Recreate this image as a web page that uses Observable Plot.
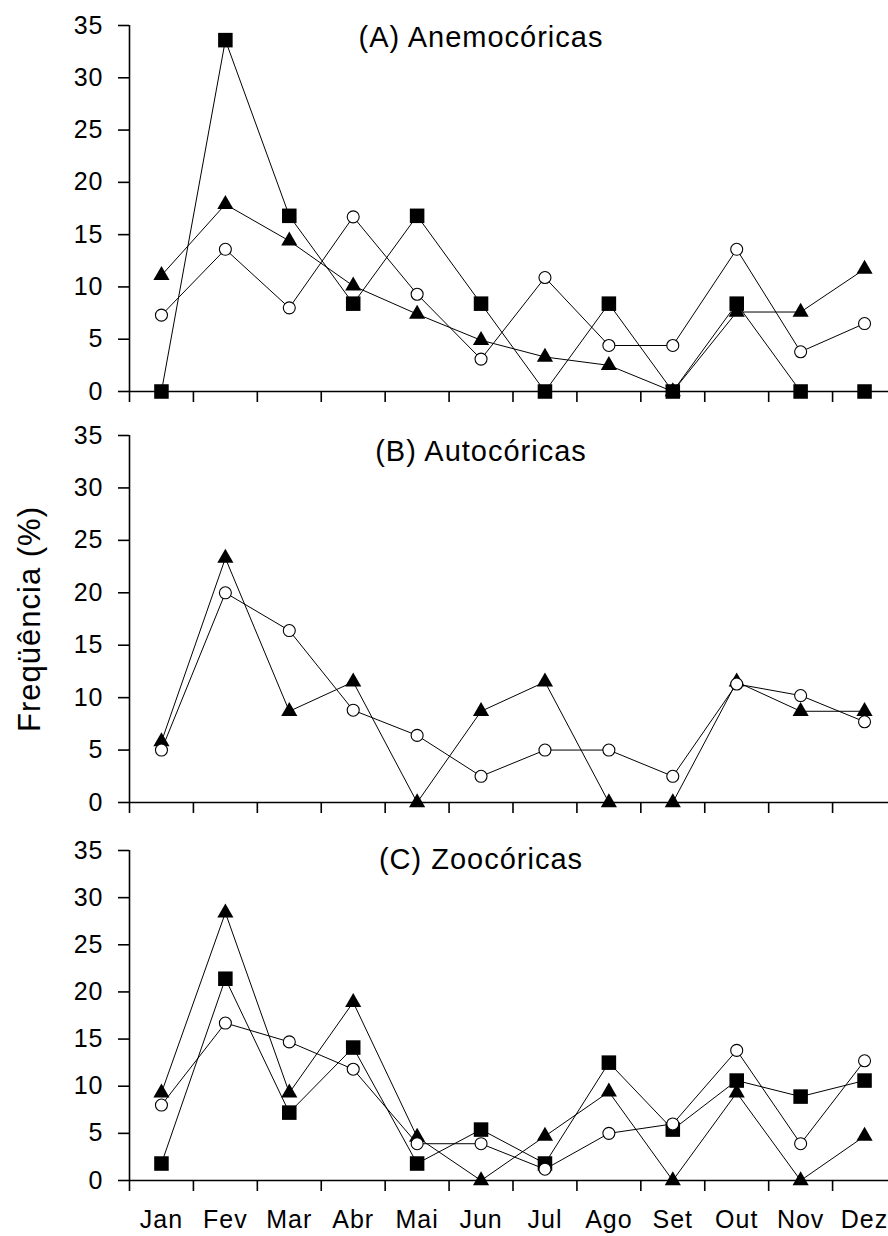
<!DOCTYPE html>
<html>
<head>
<meta charset="utf-8">
<script src="https://cdn.jsdelivr.net/npm/d3@7"></script>
<script src="https://cdn.jsdelivr.net/npm/@observablehq/plot@0.6"></script>
<style>
  html, body { margin: 0; padding: 0; background: #fff; }
  #chart { width: 888px; overflow: hidden; }
  #chart svg { display: block; }
  #chart svg text { letter-spacing: 1px; }
</style>
</head>
<body>
<div id="chart"></div>
<script>
// ---- data ----
const months = ["Jan", "Fev", "Mar", "Abr", "Mai", "Jun", "Jul", "Ago", "Set", "Out", "Nov", "Dez"];
const yTicks = [0, 5, 10, 15, 20, 25, 30, 35];

const titleA = "(A) Anemocóricas";
const titleB = "(B) Autocóricas";
const titleC = "(C) Zoocóricas";
const yTitle = "Freqüência (%)";

const aSquares   = [0, 33.6, 16.8, 8.4, 16.8, 8.4, 0, 8.4, 0, 8.4, 0, 0];
const aTriangles = [11.1, 17.9, 14.4, 10.1, 7.4, 4.9, 3.3, 2.5, 0, 7.6, 7.6, 11.7];
const aCircles   = [7.3, 13.6, 8.0, 16.7, 9.3, 3.1, 10.9, 4.4, 4.4, 13.6, 3.8, 6.5];

const bTriangles = [5.8, 23.3, 8.7, 11.5, 0, 8.7, 11.5, 0, 0, 11.5, 8.7, 8.7];
const bCircles   = [5.0, 20.0, 16.4, 8.8, 6.4, 2.5, 5.0, 5.0, 2.5, 11.3, 10.2, 7.7];

const cSquares   = [1.8, 21.4, 7.2, 14.1, 1.8, 5.4, 1.8, 12.5, 5.4, 10.6, 8.9, 10.6];
const cTriangles = [9.3, 28.4, 9.3, 18.9, 4.6, 0, 4.7, 9.4, 0, 9.3, 0, 4.7];
const cCircles   = [8.0, 16.7, 14.7, 11.8, 3.9, 3.9, 1.2, 5.0, 6.0, 13.8, 3.9, 12.7];

// ---- helpers ----
const FONT = "'Liberation Sans', Arial, sans-serif";
const monthIdx = months.map((m, i) => i);
const bandEdges = monthIdx.map(i => i - 0.5);

const symbolStyle = {
  square:   {symbol: "square",   r: 8.2, fill: "#000", stroke: "none"},
  triangle: {symbol: "triangle", r: 6.0, fill: "#000", stroke: "none"},
  circle:   {symbol: "circle",   r: 6.0, fill: "#fff", stroke: "#000", strokeWidth: 1.1}
};

function makePanel(cfg) {
  const rows = [];
  cfg.series.forEach(s => s.values.forEach((v, i) => rows.push({i, v, key: s.key})));
  const marks = [
    Plot.ruleY([0], {stroke: "#000", strokeWidth: 1.6}),
    Plot.ruleX([{x: -0.5, y1: 0, y2: 35}], {x: "x", y1: "y1", y2: "y2", stroke: "#000", strokeWidth: 1.6}),
    Plot.axisY({ticks: yTicks, tickSize: 11, tickPadding: 15, fontSize: 25, strokeWidth: 1.6, label: null, fill: "#000"}),
    Plot.axisX({ticks: bandEdges, tickSize: 11, tickFormat: () => "", strokeWidth: 1.6, label: null})
  ];
  cfg.series.forEach(s => {
    marks.push(Plot.lineY(rows.filter(r => r.key === s.key), {x: "i", y: "v", stroke: "#000", strokeWidth: 1}));
  });
  cfg.series.forEach(s => {
    const st = symbolStyle[s.key];
    marks.push(Plot.dot(rows.filter(r => r.key === s.key), {x: "i", y: "v", ...st}));
  });
  marks.push(Plot.text([cfg.title], {text: d => d, frameAnchor: "top", dx: -28, dy: cfg.titleDy, fontSize: 29, fill: "#000"}));
  if (cfg.yLabel) {
    marks.push(Plot.text([cfg.yLabel], {text: d => d, frameAnchor: "left", rotate: -90, textAnchor: "middle", dx: -99, fontSize: 31, fill: "#000"}));
  }
  if (cfg.xLabels) {
    marks.push(Plot.axisX({ticks: monthIdx, tickSize: 0, tickPadding: 30, tickFormat: i => months[i], fontSize: 25, label: null, fill: "#000"}));
  }
  return Plot.plot({
    width: 888,
    height: cfg.height,
    marginLeft: 129,
    marginRight: 0,
    marginTop: cfg.marginTop,
    marginBottom: cfg.marginBottom,
    style: {fontFamily: FONT, background: "#fff", color: "#000", overflow: "visible"},
    x: {type: "linear", domain: [-0.5, 11.5], range: [129, 896]},
    y: {type: "linear", domain: [0, 35]},
    marks
  });
}

const chart = document.getElementById("chart");
chart.append(makePanel({
  title: titleA, titleDy: 1, height: 410, marginTop: 25, marginBottom: 19,
  series: [{key: "square", values: aSquares}, {key: "triangle", values: aTriangles}, {key: "circle", values: aCircles}]
}));
chart.append(makePanel({
  title: titleB, titleDy: 5, height: 410, marginTop: 25, marginBottom: 18, yLabel: yTitle,
  series: [{key: "triangle", values: bTriangles}, {key: "circle", values: bCircles}]
}));
chart.append(makePanel({
  title: titleC, titleDy: -2, height: 416, marginTop: 30, marginBottom: 56, xLabels: true,
  series: [{key: "square", values: cSquares}, {key: "triangle", values: cTriangles}, {key: "circle", values: cCircles}]
}));
</script>
</body>
</html>
